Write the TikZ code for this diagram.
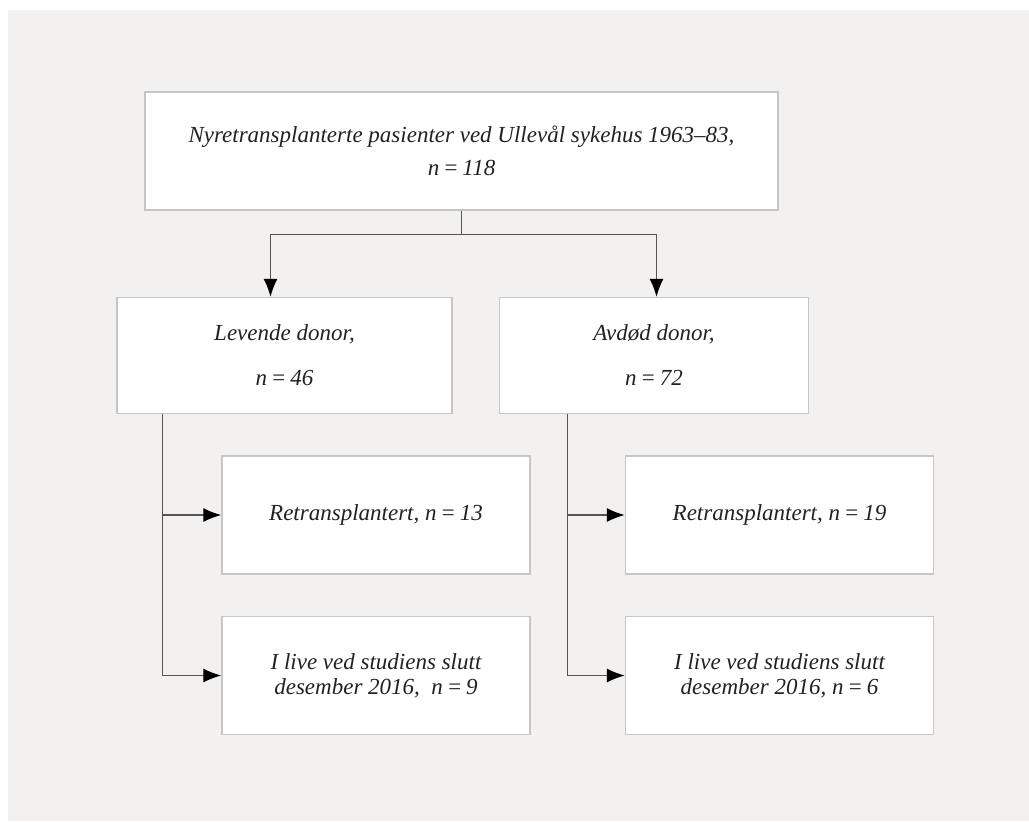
\documentclass[tikz,border=0pt]{standalone}
\usepackage{fontspec}
\setmainfont{Liberation Serif}
\usepackage{tikz}
\usetikzlibrary{arrows.meta,positioning,calc}
\definecolor{paper}{HTML}{F2F1EF}
\definecolor{frame}{HTML}{C6C6C6}
\definecolor{ink}{HTML}{222222}
\definecolor{wire}{HTML}{555555}

\begin{document}
\begin{tikzpicture}[box/.style={draw=frame,line width=0.75pt,fill=white,align=center,minimum height=59pt,inner sep=0pt,text=ink,font=\fontsize{11.5}{12.5}\selectfont\itshape},arr/.style={-{Latex[length=9pt,width=7pt,color=black]},line width=0.6pt,draw=wire}]
\useasboundingbox (0,0) rectangle (514.5pt,-410.5pt);
\fill[paper] (4pt,-5pt) rectangle (514.5pt,-410.5pt);
\node[box,minimum width=316.5pt] (cohort) at (230.75pt,-75.5pt) {Nyretransplanterte pasienter ved Ullevål sykehus 1963–83,\\[4pt]n\,=\,118};
\node[box,minimum width=167.5pt,minimum height=58pt,below=43pt of cohort.south west,anchor=north west,xshift=-14pt] (living) {Levende donor,\\[10pt]n\,=\,46};
\node[box,minimum width=154.5pt,minimum height=58pt,right=23pt of living] (deceased) {Avdød donor,\\[10pt]n\,=\,72};
\node[box,minimum width=154pt,below=20.5pt of living.south west,anchor=north west,xshift=52.5pt] (retxL) {Retransplantert, n\,=\,13};
\node[box,minimum width=154pt,below=20.5pt of retxL] (aliveL) {I live ved studiens slutt\\desember 2016,\ \ n\,=\,9};
\node[box,minimum width=154pt,below=20.5pt of deceased.south west,anchor=north west,xshift=63pt] (retxR) {Retransplantert, n\,=\,19};
\node[box,minimum width=154pt,below=20.5pt of retxR] (aliveR) {I live ved studiens slutt\\desember 2016, n\,=\,6};
\coordinate (split) at ($(cohort.south)+(0,-12pt)$);
\draw[wire,line width=0.6pt](cohort.south)--(split);
\draw[arr](split)-|([xshift=-7pt]living.north);\draw[arr](split)-|([xshift=1.25pt]deceased.north);
\draw[arr]([xshift=23pt]living.south west)|-(retxL.west);\draw[arr]([xshift=23pt]living.south west)|-(aliveL.west);
\draw[arr]([xshift=34.5pt]deceased.south west)|-(retxR.west);\draw[arr]([xshift=34.5pt]deceased.south west)|-(aliveR.west);
\end{tikzpicture}
\end{document}
